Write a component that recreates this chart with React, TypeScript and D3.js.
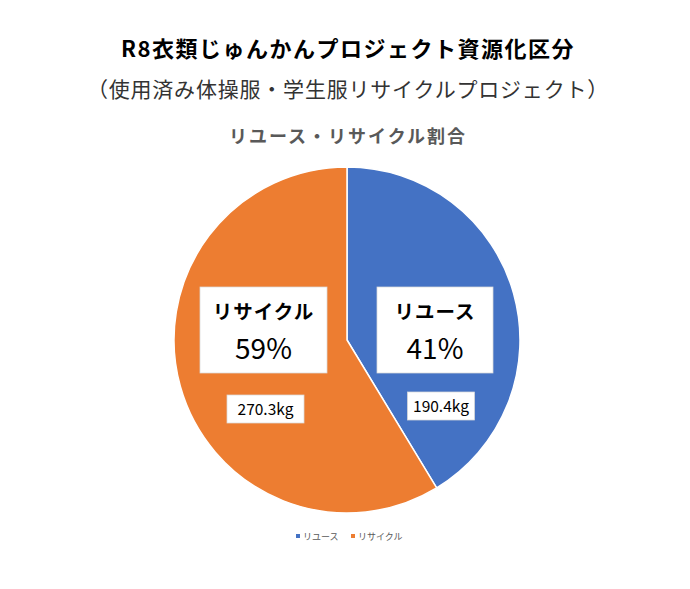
import React from "react";
import * as d3 from "d3";

const categories = ["リユース", "リサイクル"];
const weights = [190.4, 270.3];
const colors = ["#4472C4", "#ED7D31"];

const W = 690, H = 589;
const cx = 347, cy = 340, R = 173;
const FONT = "'Noto Sans CJK JP', 'Noto Sans', sans-serif";

// label box layout (center x, top of main box, top of small box)
const boxLayout = [
  { x: 435, w: 116, top: 287, h: 86, sx: 441, sw: 67, stop: 392 },
  { x: 263.5, w: 127, top: 287, h: 86, sx: 265.5, sw: 77, stop: 395 },
];

export default function App() {
  const total = d3.sum(weights);
  const pie = d3.pie<number>().sort(null).value((d) => d)(weights);
  const arc = d3.arc<d3.PieArcDatum<number>>().innerRadius(0).outerRadius(R);

  return (
    <svg width={W} height={H} style={{ position: "absolute", left: 0, top: 0, background: "#fff" }} fontFamily={FONT}>
      <rect width={W} height={H} fill="#fff" />
      <text x={348} y={57} textAnchor="middle" fontSize={22} letterSpacing={1.5} fontWeight="bold" fill="#000">R8衣類じゅんかんプロジェクト資源化区分</text>
      <text x={348} y={97} textAnchor="middle" fontSize={21} letterSpacing={0.8} fill="#333">（使用済み体操服・学生服リサイクルプロジェクト）</text>
      <text x={348} y={143} textAnchor="middle" fontSize={18} letterSpacing={2} fontWeight="bold" fill="#595959">リユース・リサイクル割合</text>
      <g transform={`translate(${cx},${cy})`}>
        {pie.map((p, i) => (
          <path key={i} d={arc(p) || ""} fill={colors[i]} stroke="#fff" strokeWidth={1.5} />
        ))}
      </g>
      {categories.map((c, i) => {
        const b = boxLayout[i];
        const pct = Math.round((weights[i] / total) * 100);
        return (
          <g key={c}>
            <rect x={b.x - b.w / 2} y={b.top} width={b.w} height={b.h} fill="#fff" stroke="#d9d9d9" strokeWidth={0.75} />
            <text x={b.x} y={b.top + 32} textAnchor="middle" fontSize={19.5} letterSpacing={1} fontWeight="bold" fill="#000">{c}</text>
            <text x={b.x} y={b.top + 72} textAnchor="middle" fontSize={28} fill="#000">{pct}%</text>
            <rect x={b.sx - b.sw / 2} y={b.stop} width={b.sw} height={28} fill="#fff" stroke="#d9d9d9" strokeWidth={0.75} />
            <text x={b.sx} y={b.stop + 20} textAnchor="middle" fontSize={15.5} fill="#000">{weights[i]}kg</text>
          </g>
        );
      })}
      {categories.map((c, i) => {
        const lx = [296, 351][i];
        return (
          <g key={"l" + c}>
            <rect x={lx} y={534} width={4} height={4} fill={colors[i]} />
            <text x={lx + 7} y={540} fontSize={9} fill="#595959">{c}</text>
          </g>
        );
      })}
    </svg>
  );
}
